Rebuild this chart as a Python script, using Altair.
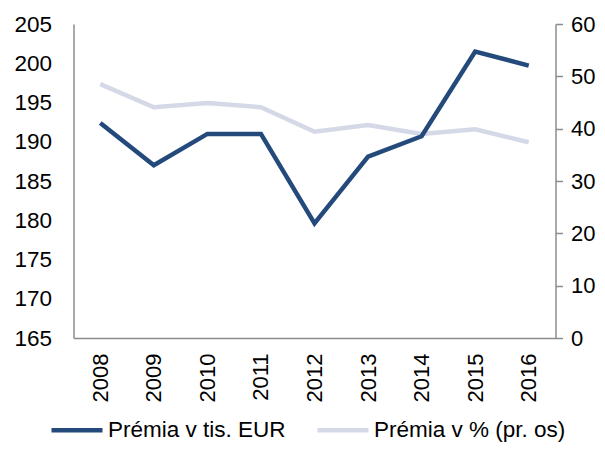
import altair as alt
import pandas as pd

years = ["2008", "2009", "2010", "2011", "2012", "2013", "2014", "2015", "2016"]
premia_eur = [192.4, 187.0, 191.0, 191.0, 179.6, 188.1, 190.7, 201.5, 199.7]
premia_pct = [48.5, 44.1, 44.9, 44.1, 39.4, 40.7, 39.0, 39.9, 37.4]

s1 = "Prémia v tis. EUR"
s2 = "Prémia v % (pr. os)"

df = pd.DataFrame({
    "year": years * 2,
    "value": premia_eur + premia_pct,
    "series": [s1] * len(years) + [s2] * len(years),
})

FONT = "Liberation Sans"
GRAY = "#8c8c8c"
DARK = "#244A7C"
LIGHT = "#D5D9E7"

color = alt.Color(
    "series:N",
    scale=alt.Scale(domain=[s1, s2], range=[DARK, LIGHT]),
    legend=alt.Legend(
        title=None, orient="none", direction="horizontal",
        legendX=-24.5, legendY=378,
        symbolType="stroke", symbolSize=2601, symbolStrokeWidth=4.5,
        labelFontSize=22.5, labelFont=FONT, labelColor="#000000",
        labelOffset=3, columnPadding=22, padding=0, labelLimit=400,
    ),
)

x = alt.X(
    "year:O", title=None, sort=years,
    scale=alt.Scale(padding=0.5),
    axis=alt.Axis(labelAngle=-90, labelFontSize=22, labelFont=FONT,
                  labelColor="#000000", ticks=False, tickSize=0,
                  labelPadding=15, domainColor=GRAY, domainWidth=1.5,
                  grid=False, labelAlign="right", labelBaseline="middle"),
)

left = alt.Chart(df).transform_filter(alt.datum.series == s1).mark_line(
    strokeWidth=4.5, strokeJoin="miter"
).encode(
    x=x,
    y=alt.Y("value:Q", title=None,
            scale=alt.Scale(domain=[165, 205], nice=False, zero=False),
            axis=alt.Axis(values=list(range(165, 206, 5)), labelFontSize=22.5,
                          labelFont=FONT, labelColor="#000000", ticks=False,
                          tickSize=0, labelPadding=22, domainColor=GRAY,
                          domainWidth=1.5, grid=False)),
    color=color,
)

right = alt.Chart(df).transform_filter(alt.datum.series == s2).mark_line(
    strokeWidth=4.5, strokeJoin="miter"
).encode(
    x=x,
    y=alt.Y("value:Q", title=None,
            scale=alt.Scale(domain=[0, 60], nice=False),
            axis=alt.Axis(orient="right", values=list(range(0, 61, 10)),
                          labelFontSize=22, labelFont=FONT,
                          labelColor="#000000", ticks=True, tickSize=7,
                          tickColor=GRAY, tickWidth=1.5, labelPadding=8,
                          domainColor=GRAY, domainWidth=1.5, grid=False)),
    color=color,
)

chart = alt.layer(right, left).resolve_scale(y="independent").properties(
    width=482, height=314,
    autosize=alt.AutoSizeParams(type="none"),
    padding={"left": 65.5, "top": 16, "right": 41.5, "bottom": 106},
).configure_view(stroke=None)

chart.save("out.html", embed_options={"renderer": "svg", "actions": False})
